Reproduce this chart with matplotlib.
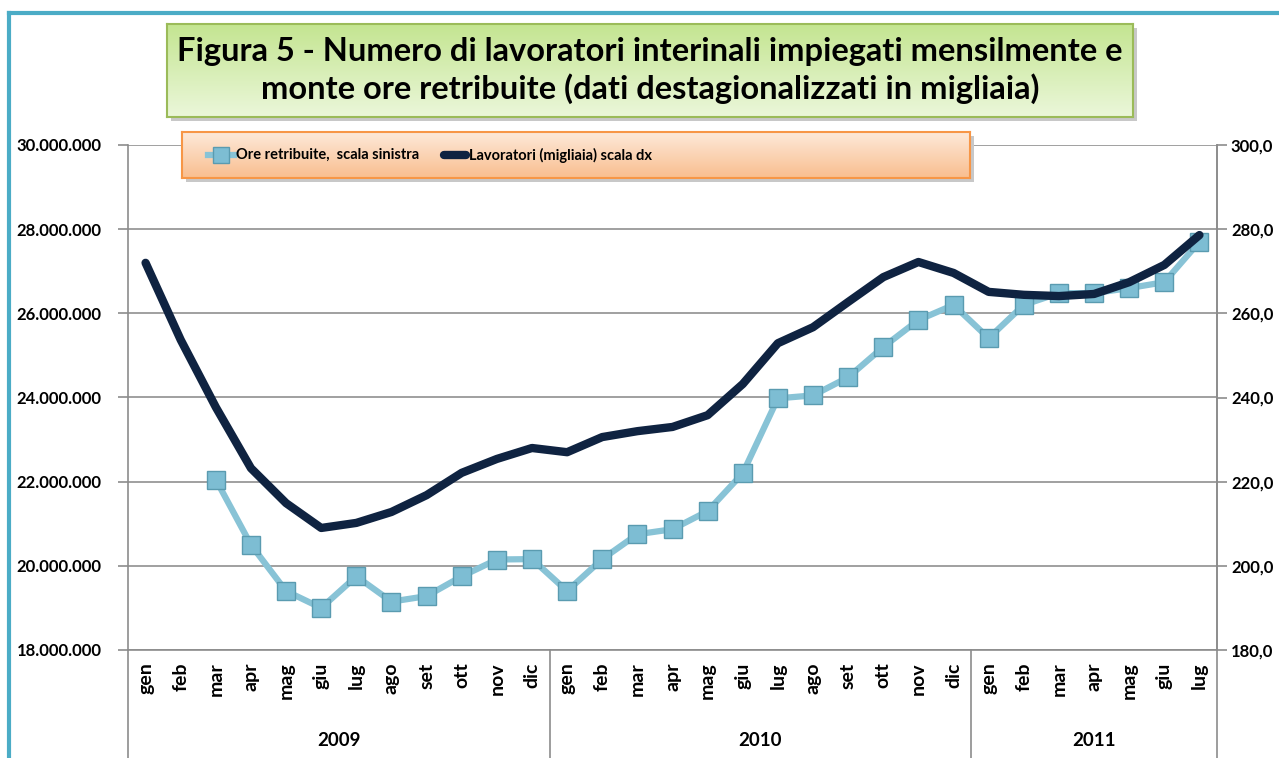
import numpy as np
import matplotlib
matplotlib.use("Agg")
import matplotlib.pyplot as plt
from matplotlib.colors import LinearSegmentedColormap
from matplotlib.lines import Line2D
from matplotlib.patches import Rectangle

plt.rcParams['font.family'] = ['Lato', 'DejaVu Sans']
plt.rcParams['font.weight'] = 'bold'

# data
mesi = ['gen', 'feb', 'mar', 'apr', 'mag', 'giu', 'lug', 'ago', 'set', 'ott', 'nov', 'dic']
anni = ['2009', '2010', '2011']
mesi_per_anno = [12, 12, 7]
etichette = mesi + mesi + mesi[:7]

ore = [np.nan, np.nan, 22.05e6, 20.5e6, 19.4e6, 19.0e6, 19.75e6, 19.15e6, 19.28e6, 19.75e6,
       20.15e6, 20.16e6, 19.4e6, 20.16e6, 20.75e6, 20.87e6, 21.3e6, 22.2e6, 23.98e6, 24.05e6,
       24.48e6, 25.2e6, 25.84e6, 26.2e6, 25.41e6, 26.2e6, 26.48e6, 26.48e6, 26.6e6, 26.74e6, 27.7e6]
lavoratori = [272.0, 253.7, 237.7, 223.2, 214.9, 209.0, 210.2, 212.8, 216.8, 222.1, 225.4, 228.0,
              227.0, 230.6, 232.0, 233.0, 235.8, 243.2, 252.9, 256.7, 262.7, 268.6, 272.2, 269.6,
              265.1, 264.4, 264.1, 264.6, 267.4, 271.5, 278.6]

W, H = 1279, 758
COL_ORE = '#88C3D6'
COL_LAV = '#0F2341'


def fx(px):
    return px / W


def fy(py):
    return 1 - py / H


fig = plt.figure(figsize=(W / 100, H / 100), dpi=100)
fig.patch.set_facecolor('white')

# outer frame (cut off at right and bottom)
frame_col = '#4BACC6'
fig.add_artist(Line2D([fx(9), fx(9)], [fy(13), 0], color=frame_col, lw=3, transform=fig.transFigure))
fig.add_artist(Line2D([fx(9), 1], [fy(13), fy(13)], color=frame_col, lw=3, transform=fig.transFigure))

# main axes
x0, x1, ytop, ybot = 128, 1217, 145, 650
ax = fig.add_axes([fx(x0), fy(ybot), fx(x1 - x0), (ybot - ytop) / H])
x = np.arange(len(etichette))

ax.set_xlim(-0.5, len(etichette) - 0.5)
ax.set_ylim(18e6, 30e6)
ax.set_yticks(np.arange(18e6, 30e6 + 1, 2e6))
ax.set_yticklabels([f"{v:,.0f}".replace(',', '.') for v in np.arange(18e6, 30e6 + 1, 2e6)],
                   fontsize=12, fontweight='bold')
ax.grid(axis='y', color='#909090', lw=1.2)
ax.set_axisbelow(True)
ax.tick_params(axis='y', direction='out', length=7, color='#8C8C8C', width=1.2, pad=12)
ax.set_xticks(x)
ax.set_xticklabels(etichette, rotation=90, fontsize=14, fontweight='bold')
ax.tick_params(axis='x', length=0, pad=9)
ax.spines['top'].set_visible(False)
for s in ['left', 'bottom', 'right']:
    ax.spines[s].set_color('#8C8C8C')
    ax.spines[s].set_linewidth(1.2)

ax2 = ax.twinx()
ax2.set_ylim(180, 300)
ax2.set_yticks(np.arange(180, 301, 20))
ax2.set_yticklabels([f"{v:.1f}".replace('.', ',') for v in np.arange(180, 301, 20)],
                    fontsize=12, fontweight='bold')
ax2.tick_params(axis='y', direction='out', length=7, color='#8C8C8C', width=1.2, pad=3)
for s in ['top', 'left', 'bottom']:
    ax2.spines[s].set_visible(False)
ax2.spines['right'].set_color('#8C8C8C')
ax2.spines['right'].set_linewidth(1.2)

# dark line sits above the markers, as in the original
ax2.plot(x, lavoratori, color=COL_LAV, lw=6, solid_capstyle='round', zorder=3)
ax.plot(x, ore, color=COL_ORE, lw=4.5, marker='s', markersize=13,
        markerfacecolor='#7DBDD3', markeredgecolor='#5A9BB0', markeredgewidth=1, zorder=2)
ax.set_zorder(0)
ax2.set_zorder(1)
ax2.patch.set_visible(False)

# year groups below axis
bt = ax.get_xaxis_transform()
sep_lo = -(H - ybot) / (ybot - ytop)
start = 0
bounds = [-0.5]
for anno, n in zip(anni, mesi_per_anno):
    ax.text(start + (n - 1) / 2, -(740 - ybot) / (ybot - ytop), anno, transform=bt,
            ha='center', va='center', fontsize=13.5, fontweight='bold')
    start += n
    bounds.append(start - 0.5)
for b in bounds:
    ax.plot([b, b], [0, sep_lo], transform=bt, color='#8C8C8C', lw=1.2, clip_on=False)


def gradient_box(px0, py0, px1, py1, top, bottom, edge):
    sh = Rectangle((fx(px0 + 4), fy(py1 + 4)), fx(px1 - px0), (py1 - py0) / H,
                   transform=fig.transFigure, facecolor='#C8C8C8', edgecolor='none', zorder=2)
    fig.add_artist(sh)
    bax = fig.add_axes([fx(px0), fy(py1), fx(px1 - px0), (py1 - py0) / H])
    bax.set_zorder(3)
    cmap = LinearSegmentedColormap.from_list('g', [bottom, top])
    bax.imshow(np.linspace(0, 1, 100).reshape(-1, 1), aspect='auto', cmap=cmap,
               extent=[0, 1, 0, 1], origin='lower')
    bax.set_xticks([])
    bax.set_yticks([])
    for s in bax.spines.values():
        s.set_color(edge)
        s.set_linewidth(1.5)
    return bax


# title box
tax = gradient_box(167, 24, 1133, 117, '#C4E591', '#EBF7DA', '#9BBB59')
tax.text(0.5, 0.5, "Figura 5 - Numero di lavoratori interinali impiegati mensilmente e\n"
         "monte ore retribuite (dati destagionalizzati in migliaia)",
         ha='center', va='center', fontsize=23.5, fontweight='bold', linespacing=1.3,
         color='black', transform=tax.transAxes)

# legend box
lb0, lb1 = 182, 970
lax = gradient_box(lb0, 132, lb1, 178, '#FDE9D9', '#F9BE8F', '#F79646')


def lx(px):
    return (px - lb0) / (lb1 - lb0)


lax.plot([lx(208), lx(234)], [0.5, 0.5], color=COL_ORE, lw=4.5, transform=lax.transAxes)
lax.plot([lx(221)], [0.5], marker='s', markersize=11, markerfacecolor='#7DBDD3',
         markeredgecolor='#5A9BB0', transform=lax.transAxes)
lax.text(lx(236), 0.5, 'Ore retribuite,  scala sinistra', ha='left', va='center',
         fontsize=10.5, fontweight='bold', transform=lax.transAxes)
lax.plot([lx(444), lx(466)], [0.5, 0.5], color=COL_LAV, lw=6, solid_capstyle='round',
         transform=lax.transAxes)
lax.text(lx(469), 0.5, 'Lavoratori (migliaia) scala dx', ha='left', va='center',
         fontsize=10.5, fontweight='bold', transform=lax.transAxes)

fig.savefig('out.png', dpi=100)
